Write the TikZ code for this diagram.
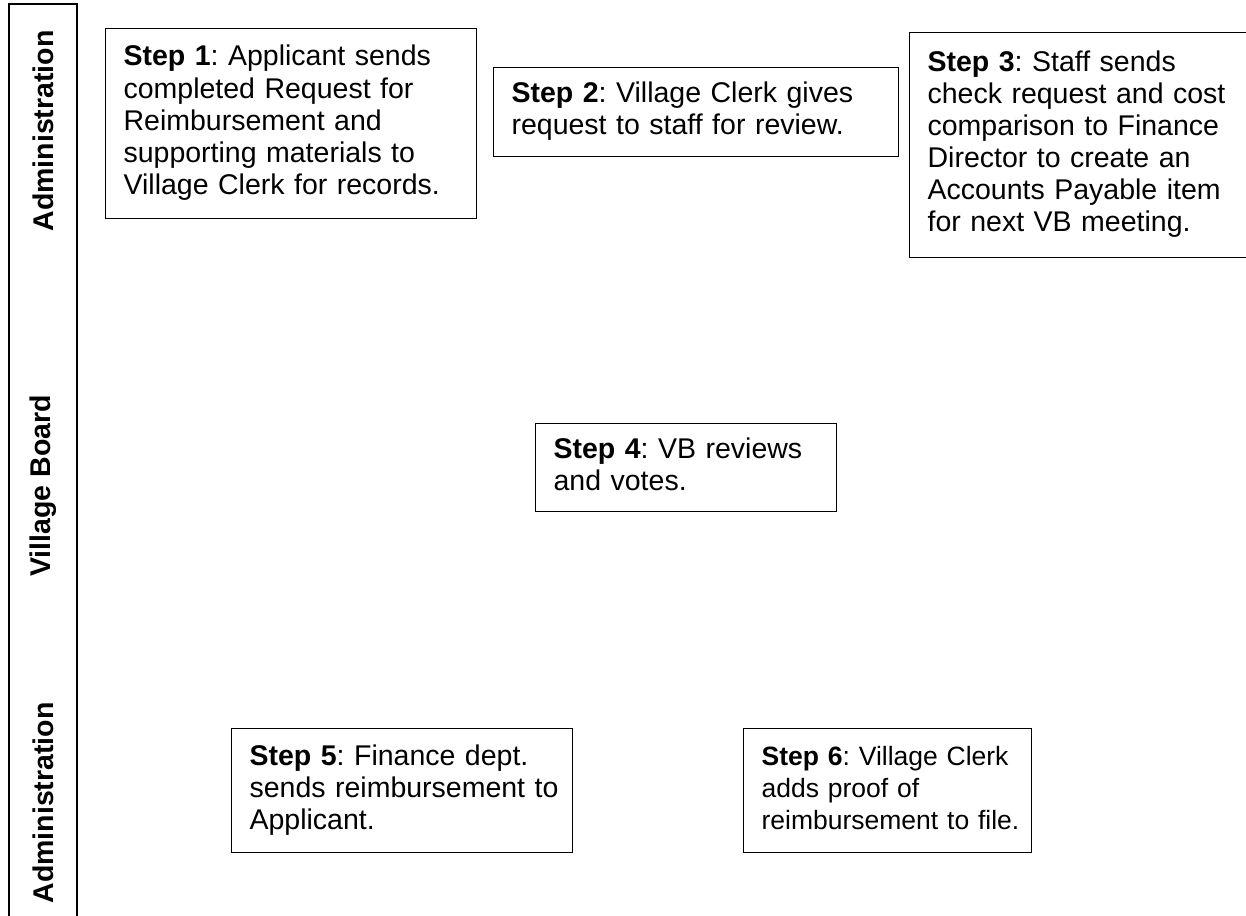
\documentclass[tikz,border=0pt]{standalone}
\usepackage{fontspec}
\setmainfont{Liberation Sans}
\frenchspacing

\begin{document}
\begin{tikzpicture}[x=1pt,y=-1pt,
    stepbox/.style={draw,line width=1.2pt,anchor=north west,align=left,
      inner xsep=18pt,inner ysep=0pt,font=\fontsize{28.5}{32}\selectfont},
    lanelabel/.style={rotate=90,font=\fontsize{28.5}{32}\selectfont\bfseries}]
    \useasboundingbox (0,0) rectangle (1246,915);
    \clip (0,0) rectangle (1246,915);
    % lane bar
    \draw[line width=1.2pt] (9,930) -- (9,4) -- (77,4) -- (77,930);
    \node[lanelabel] (lane1) at (43,131) {Administration};
    \node[lanelabel] (lane2) at (43,486) {Village Board};
    \node[lanelabel] (lane3) at (43,803) {Administration};
    % steps
    \node[stepbox,text width=335pt,minimum height=190pt] (s1) at (105,28)
      {\begin{tabular}{@{}l@{}}\textbf{Step 1}: Applicant sends\\completed Request for\\Reimbursement and\\supporting materials to\\Village Clerk for records.\end{tabular}};
    \node[stepbox,text width=369pt,minimum height=89pt] (s2) at (493,67)
      {\begin{tabular}{@{}l@{}}\textbf{Step 2}: Village Clerk gives\\request to staff for review.\end{tabular}};
    \node[stepbox,text width=364pt,minimum height=225pt] (s3) at (909,32)
      {\begin{tabular}{@{}l@{}}\textbf{Step 3}: Staff sends\\check request and cost\\comparison to Finance\\Director to create an\\Accounts Payable item\\for next VB meeting.\end{tabular}};
    \node[stepbox,text width=265pt,minimum height=88pt] (s4) at (535,423)
      {\begin{tabular}{@{}l@{}}\textbf{Step 4}: VB reviews\\and votes.\end{tabular}};
    \node[stepbox,text width=305pt,minimum height=124pt] (s5) at (231,728)
      {\begin{tabular}{@{}l@{}}\textbf{Step 5}: Finance dept.\\sends reimbursement to\\Applicant.\end{tabular}};
    \node[stepbox,text width=252pt,minimum height=124pt,font=\fontsize{26.5}{32}\selectfont] (s6) at (743,728)
      {\begin{tabular}{@{}l@{}}\textbf{Step 6}: Village Clerk\\adds proof of\\reimbursement to file.\end{tabular}};
\end{tikzpicture}
\end{document}
